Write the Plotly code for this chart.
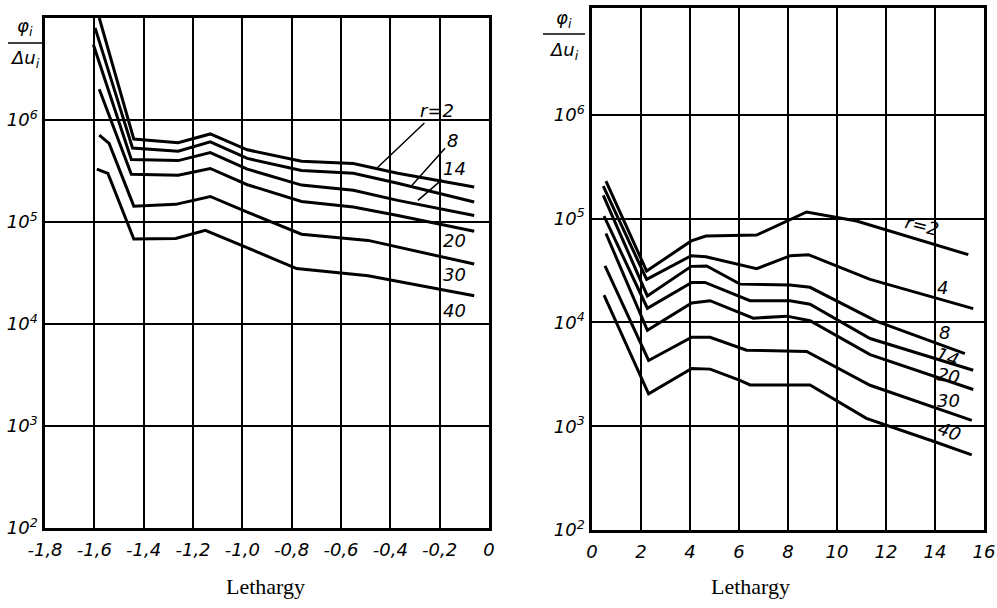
import plotly.graph_objects as go

# ---------------- data: left panel ----------------
left_r = ["2", "8", "14", "20", "30", "40"]
left_x_r2 = [-1.58, -1.44, -1.26, -1.13, -0.98, -0.76, -0.55, -0.37, -0.06]
left_y_r2 = [1.0e7, 6.5e5, 6.0e5, 7.3e5, 5.1e5, 3.95e5, 3.75e5, 3.0e5, 2.2e5]
left_x_r8 = [-1.597, -1.445, -1.26, -1.13, -0.98, -0.76, -0.55, -0.37, -0.06]
left_y_r8 = [8.0e6, 5.3e5, 4.95e5, 6.1e5, 4.2e5, 3.2e5, 3.0e5, 2.4e5, 1.57e5]
left_x_r14 = [-1.604, -1.45, -1.26, -1.13, -0.98, -0.76, -0.55, -0.37, -0.06]
left_y_r14 = [5.5e6, 4.1e5, 4.0e5, 4.8e5, 3.3e5, 2.3e5, 2.05e5, 1.63e5, 1.16e5]
left_x_r20 = [-1.58, -1.45, -1.26, -1.13, -0.98, -0.76, -0.55, -0.37, -0.06]
left_y_r20 = [2.0e6, 2.94e5, 2.87e5, 3.35e5, 2.32e5, 1.59e5, 1.4e5, 1.16e5, 8.1e4]
left_x_r30 = [-1.58, -1.54, -1.44, -1.27, -1.13, -0.98, -0.76, -0.49, -0.06]
left_y_r30 = [7.1e5, 5.9e5, 1.43e5, 1.49e5, 1.78e5, 1.25e5, 7.6e4, 6.6e4, 3.87e4]
left_x_r40 = [-1.59, -1.545, -1.44, -1.27, -1.15, -0.78, -0.49, -0.06]
left_y_r40 = [3.3e5, 3.0e5, 6.8e4, 6.9e4, 8.3e4, 3.5e4, 2.97e4, 1.89e4]

# ---------------- data: right panel ----------------
right_r = ["2", "4", "8", "14", "20", "30", "40"]
right_x_r2 = [0.57, 2.23, 4.05, 4.65, 6.72, 8.76, 10.8, 15.36]
right_y_r2 = [2.3e5, 3.13e4, 6.1e4, 6.8e4, 6.95e4, 1.16e5, 9.5e4, 4.5e4]
right_x_r4 = [0.46, 2.23, 4.05, 4.65, 6.72, 8.1, 8.83, 11.35, 15.56]
right_y_r4 = [2.06e5, 2.6e4, 4.4e4, 4.3e4, 3.3e4, 4.4e4, 4.5e4, 2.6e4, 1.36e4]
right_x_r8 = [0.46, 2.26, 4.05, 4.68, 6.04, 8.08, 8.9, 11.6, 15.22]
right_y_r8 = [1.68e5, 1.8e4, 3.47e4, 3.5e4, 2.34e4, 2.3e4, 2.18e4, 1.03e4, 5.0e3]
right_x_r14 = [0.49, 2.26, 4.07, 4.61, 6.45, 8.08, 8.9, 11.35, 15.56]
right_y_r14 = [1.06e5, 1.37e4, 2.43e4, 2.43e4, 1.62e4, 1.62e4, 1.5e4, 7.0e3, 3.46e3]
right_x_r20 = [0.57, 2.26, 4.07, 4.82, 6.58, 7.95, 8.9, 11.35, 15.56]
right_y_r20 = [7.2e4, 8.4e3, 1.54e4, 1.62e4, 1.1e4, 1.15e4, 1.04e4, 4.9e3, 2.26e3]
right_x_r30 = [0.53, 2.31, 4.07, 4.82, 6.31, 8.76, 11.35, 15.5]
right_y_r30 = [3.5e4, 4.3e3, 7.2e3, 7.2e3, 5.4e3, 5.25e3, 2.48e3, 1.14e3]
right_x_r40 = [0.49, 2.31, 4.07, 4.82, 6.04, 6.45, 8.9, 11.2, 13.93, 15.5]
right_y_r40 = [1.83e4, 2.05e3, 3.6e3, 3.55e3, 2.77e3, 2.5e3, 2.5e3, 1.19e3, 716, 530]

# ---------------- ticks ----------------
left_xticks = [-1.8, -1.6, -1.4, -1.2, -1.0, -0.8, -0.6, -0.4, -0.2, 0]
left_xtext = ["-1,8", "-1,6", "-1,4", "-1,2", "-1,0", "-0,8", "-0,6", "-0,4", "-0,2", "0"]
right_xticks = [0, 2, 4, 6, 8, 10, 12, 14, 16]
right_xtext = ["0", "2", "4", "6", "8", "10", "12", "14", "16"]
yticks = [1e2, 1e3, 1e4, 1e5, 1e6]
ytext = ["10<sup>2</sup>", "10<sup>3</sup>", "10<sup>4</sup>", "10<sup>5</sup>", "10<sup>6</sup>"]

left_series = [(left_x_r2, left_y_r2), (left_x_r8, left_y_r8), (left_x_r14, left_y_r14),
               (left_x_r20, left_y_r20), (left_x_r30, left_y_r30), (left_x_r40, left_y_r40)]
right_series = [(right_x_r2, right_y_r2), (right_x_r4, right_y_r4), (right_x_r8, right_y_r8),
                (right_x_r14, right_y_r14), (right_x_r20, right_y_r20),
                (right_x_r30, right_y_r30), (right_x_r40, right_y_r40)]

TICKFONT = dict(family="DejaVu Sans", size=18, color="black", style="italic")
SERIF = dict(family="Liberation Serif", size=22, color="black")

fig = go.Figure()
for (xs, ys), r in zip(left_series, left_r):
    fig.add_trace(go.Scatter(x=xs, y=ys, mode="lines", name="r=" + r,
                             line=dict(color="black", width=3),
                             xaxis="x", yaxis="y", showlegend=False))
for (xs, ys), r in zip(right_series, right_r):
    fig.add_trace(go.Scatter(x=xs, y=ys, mode="lines", name="r=" + r,
                             line=dict(color="black", width=3),
                             xaxis="x2", yaxis="y2", showlegend=False))

axis_common = dict(showline=True, mirror=True, linecolor="black", linewidth=2.5,
                   showgrid=True, gridcolor="black", gridwidth=1.6, automargin=False,
                   zeroline=False, ticks="", tickfont=TICKFONT, tickmode="array")

W, H = 997, 608
fig.update_layout(
    width=W, height=H,
    margin=dict(l=0, r=0, t=0, b=0, autoexpand=False),
    paper_bgcolor="white", plot_bgcolor="white",
    xaxis=dict(domain=[45 / W, 489 / W], range=[-1.8, 0], tickvals=left_xticks,
               ticktext=left_xtext, anchor="y", ticklabelstandoff=4, **axis_common),
    yaxis=dict(domain=[1 - 528 / H, 1 - 18 / H], type="log", range=[2, 7],
               tickvals=yticks, ticktext=ytext, anchor="x", ticklabelstandoff=1,
               **axis_common),
    xaxis2=dict(domain=[592 / W, 984 / W], range=[0, 16], tickvals=right_xticks,
                ticktext=right_xtext, anchor="y2", ticklabelstandoff=4, **axis_common),
    yaxis2=dict(domain=[1 - 530 / H, 1 - 8 / H], type="log", range=[2, 7.03],
                tickvals=yticks, ticktext=ytext, anchor="x2", ticklabelstandoff=1,
                **axis_common),
)

LBL = dict(family="DejaVu Sans", size=18, color="black", style="italic")
C = dict(xanchor="center", yanchor="middle")
ann = []
# left panel labels with leader lines
ann.append(dict(x=-0.454, y=5.53, xref="x", yref="y", text="r=2", showarrow=True,
                arrowhead=0, arrowwidth=1.5, arrowcolor="black", ax=60, ay=-57, font=LBL))
ann.append(dict(x=-0.312, y=5.36, xref="x", yref="y", text="8", showarrow=True,
                arrowhead=0, arrowwidth=1.5, arrowcolor="black", ax=40, ay=-45, font=LBL))
ann.append(dict(x=-0.288, y=5.212, xref="x", yref="y", text="14", showarrow=True,
                arrowhead=0, arrowwidth=1.5, arrowcolor="black", ax=37, ay=-32, font=LBL))
for t, ly in [("20", 4.82), ("30", 4.49), ("40", 4.13)]:
    ann.append(dict(x=-0.138, y=ly, xref="x", yref="y", text=t, showarrow=False,
                    font=LBL, **C))
# right panel labels
for t, lx, ly, ang in [("r=2", 13.45, 4.93, 14), ("4", 14.3, 4.34, 0), ("8", 14.4, 3.9, 0),
                       ("14", 14.5, 3.67, 20), ("20", 14.55, 3.49, 10),
                       ("30", 14.55, 3.25, 0), ("40", 14.6, 2.95, 20)]:
    ann.append(dict(x=lx, y=ly, xref="x2", yref="y2", text=t, showarrow=False,
                    font=LBL, textangle=ang, **C))

# y-axis title fractions and x titles
FR = dict(family="DejaVu Sans", size=18, color="black", style="italic")
for cx, ytop, ybot in [(25, 27, 59), (564, 19, 51)]:
    ann.append(dict(x=cx / W, y=1 - ytop / H, xref="paper", yref="paper",
                    text="\u03c6<sub>i</sub>", showarrow=False, font=FR, **C))
    ann.append(dict(x=cx / W, y=1 - ybot / H, xref="paper", yref="paper",
                    text="\u0394u<sub>i</sub>", showarrow=False, font=FR, **C))
ann.append(dict(x=265 / W, y=1 - 586 / H, xref="paper", yref="paper", text="Lethargy",
                showarrow=False, font=SERIF, **C))
ann.append(dict(x=750 / W, y=1 - 586 / H, xref="paper", yref="paper", text="Lethargy",
                showarrow=False, font=SERIF, **C))
fig.update_layout(annotations=ann)

shapes = [
    dict(type="line", xref="paper", yref="paper", x0=8 / W, x1=43 / W,
         y0=1 - 43 / H, y1=1 - 43 / H, line=dict(color="black", width=1.5)),
    dict(type="line", xref="paper", yref="paper", x0=543 / W, x1=585 / W,
         y0=1 - 34 / H, y1=1 - 34 / H, line=dict(color="black", width=1.5)),
]
fig.update_layout(shapes=shapes)

fig.write_html("out.html")
